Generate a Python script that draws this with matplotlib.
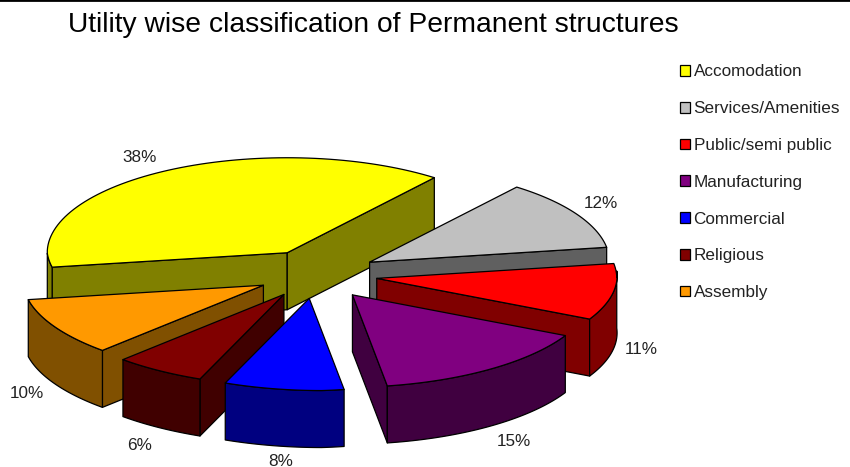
import numpy as np
import matplotlib
matplotlib.use('Agg')
import matplotlib.pyplot as plt
from matplotlib.patches import Patch, Polygon

plt.rcParams['font.family'] = ['Liberation Sans', 'DejaVu Sans']

# Datos
categories = ['Accomodation', 'Services/Amenities', 'Public/semi public',
              'Manufacturing', 'Commercial', 'Religious', 'Assembly']
percent = [38, 12, 11, 15, 8, 6, 10]
top_colors = ['#ffff00', '#c0c0c0', '#ff0000', '#800080', '#0000ff', '#800000', '#ff9900']
wall_colors = ['#808000', '#606060', '#800000', '#400040', '#000080', '#400000', '#805000']
label_pos = [(140, 158), (601, 203), (641, 350), (514, 441), (281, 461), (140, 445), (27, 393)]
explode = [0.26, 0.245, 0.245, 0.26, 0.26, 0.26, 0.26]

# Geometria del pastel en pixeles
cx, cy = 319, 274
rx, ry = 240, 95
depth = 57
start_angle = 189.0
line_w = 0.9


def project(xc, yc, t):
    # elipse con una pequena deformacion como en el 3D de Excel
    dx = rx * np.cos(t)
    dy = -ry * np.sin(t)
    x = xc + dx + np.where(dy > 0, 0.13 * dy, 0.0)
    y = yc + np.where(dy > 0, 0.97 * dy - 0.03 * np.maximum(dx, 0), dy)
    return x, y


fig = plt.figure(figsize=(8.5, 4.67), dpi=100)
ax = fig.add_axes([0, 0, 1, 1])
ax.set_xlim(0, 850)
ax.set_ylim(467, 0)
ax.set_xticks([])
ax.set_yticks([])
for side in ['left', 'right', 'bottom']:
    ax.spines[side].set_visible(False)
ax.spines['top'].set_linewidth(2)

# Calcular las porciones, en sentido horario desde la izquierda de Accomodation
ordered = []
angle = start_angle
for i, p in enumerate(percent):
    sweep = 360.0 * p / sum(percent)
    t1 = angle
    t2 = angle - sweep
    angle = t2
    mid = np.radians((t1 + t2) / 2)
    xc = cx + explode[i] * rx * np.cos(mid)
    yc = cy - explode[i] * ry * np.sin(mid)
    ordered.append((yc, i, t1, t2, xc))
# de atras hacia adelante
ordered.sort()

for yc, i, t1, t2, xc in ordered:
    t = np.radians(np.linspace(t1, t2, 80))
    ax_x, ax_y = project(xc, yc, t)
    edge = dict(edgecolor='black', linewidth=line_w, facecolor=wall_colors[i], joinstyle='round')

    # paredes radiales, solo las que miran hacia abajo
    radial = [(ax_x[0], ax_y[0]), (ax_x[-1], ax_y[-1])]
    for k, (px, py) in enumerate(radial):
        ox, oy = radial[1 - k]
        # normal hacia afuera de la porcion
        nx, ny = py - yc, -(px - xc)
        if nx * (ox - xc) + ny * (oy - yc) > 0:
            nx, ny = -nx, -ny
        if ny > 0:
            ax.add_patch(Polygon([(xc, yc), (px, py), (px, py + depth), (xc, yc + depth)], **edge))

    # pared exterior donde el arco mira hacia abajo
    front = np.sin(t) < 0
    if front.any():
        fx, fy = ax_x[front], ax_y[front]
        wall = np.r_[np.c_[fx, fy], np.c_[fx[::-1], fy[::-1] + depth]]
        ax.add_patch(Polygon(wall, **edge))

    top = np.r_[[[xc, yc]], np.c_[ax_x, ax_y]]
    ax.add_patch(Polygon(top, facecolor=top_colors[i], edgecolor='black',
                         linewidth=line_w, joinstyle='round'))

for p, (lx, ly) in zip(percent, label_pos):
    ax.text(lx, ly, f'{p}%', ha='center', va='center', fontsize=12.3, color='#222222')

ax.text(68, 25, 'Utility wise classification of Permanent structures',
        ha='left', va='center', fontsize=20.3, color='black')

handles = [Patch(facecolor=c, edgecolor='black', linewidth=0.9) for c in top_colors]
ax.legend(handles, categories, loc='upper left', bbox_to_anchor=(679.5 / 850, 1 - 64.5 / 467),
          frameon=False, fontsize=12.3, labelcolor='#222222', handlelength=0.6, handleheight=0.6,
          handletextpad=0.22, labelspacing=1.274, borderpad=0, borderaxespad=0)

fig.savefig('out.png', dpi=100)
